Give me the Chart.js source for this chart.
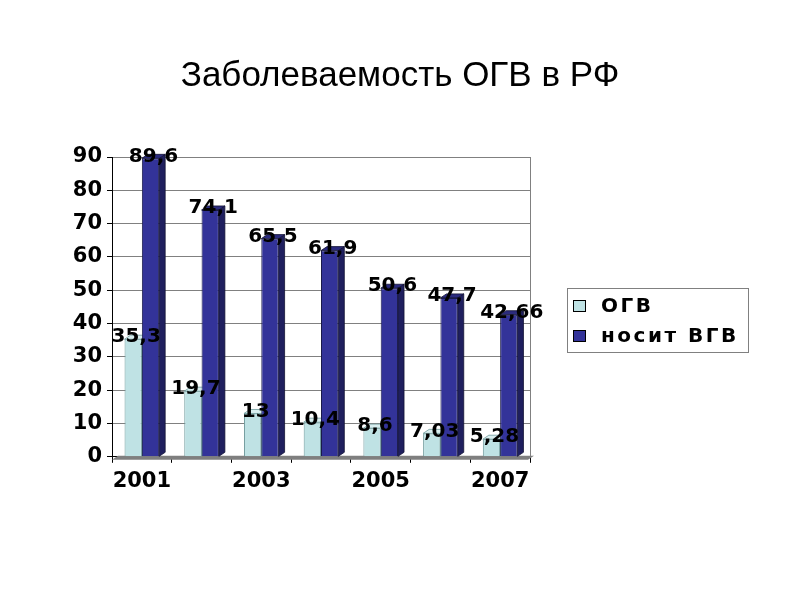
<!DOCTYPE html>
<html lang="ru">
<head>
    <meta charset="utf-8">
    <title>Заболеваемость ОГВ в РФ</title>
    <script src="https://cdn.jsdelivr.net/npm/chart.js"></script>
    <style>
        html, body { margin: 0; padding: 0; background: #fff; }
        #wrap { position: relative; width: 800px; height: 600px; }
    </style>
</head>
<body>
    <div id="wrap">
        <canvas id="myBarChart"></canvas>
    </div>

    <script>
        // данные графика
        const years = ['2001', '2002', '2003', '2004', '2005', '2006', '2007'];
        const ogvValues = [35.3, 19.7, 13, 10.4, 8.6, 7.03, 5.28];
        const carrierValues = [89.6, 74.1, 65.5, 61.9, 50.6, 47.7, 42.66];
        const seriesNames = ['ОГВ', 'носит ВГВ'];
        const chartTitle = 'Заболеваемость ОГВ в РФ';
        const yMax = 90;
        const yStep = 10;

        const boldFont = 'bold 20px "DejaVu Sans"';
        const dx = 6, dy = 4; // глубина "3D"

        // боковые и верхние грани столбиков, пол, подписи, легенда, заголовок
        const bar3d = {
            id: 'bar3d',
            beforeDatasetsDraw(chart) {
                const ctx = chart.ctx;
                const area = chart.chartArea;
                ctx.save();
                // пол
                ctx.fillStyle = '#7f7f7f';
                ctx.strokeStyle = '#333';
                ctx.lineWidth = 1;
                ctx.beginPath();
                ctx.moveTo(area.left, area.bottom + 3);
                ctx.lineTo(area.left + dx, area.bottom - 1);
                ctx.lineTo(area.right + 4, area.bottom - 1);
                ctx.lineTo(area.right - 2, area.bottom + 3);
                ctx.closePath();
                ctx.fill();
                // правая граница области
                ctx.strokeStyle = '#808080';
                ctx.beginPath();
                ctx.moveTo(area.right + 0.5, area.top);
                ctx.lineTo(area.right + 0.5, area.bottom);
                ctx.stroke();

                chart.data.datasets.forEach((ds, i) => {
                    const meta = chart.getDatasetMeta(i);
                    meta.data.forEach(bar => {
                        const half = bar.width / 2;
                        const l = bar.x - half, r = bar.x + half;
                        ctx.strokeStyle = ds.edgeColor;
                        ctx.lineWidth = 0.8;
                        // бок
                        ctx.fillStyle = ds.sideColor;
                        ctx.beginPath();
                        ctx.moveTo(r, bar.y);
                        ctx.lineTo(r + dx, bar.y - dy);
                        ctx.lineTo(r + dx, bar.base - dy);
                        ctx.lineTo(r, bar.base);
                        ctx.closePath();
                        ctx.fill();
                        ctx.stroke();
                        // верх
                        ctx.fillStyle = ds.topColor;
                        ctx.beginPath();
                        ctx.moveTo(l, bar.y);
                        ctx.lineTo(l + dx, bar.y - dy);
                        ctx.lineTo(r + dx, bar.y - dy);
                        ctx.lineTo(r, bar.y);
                        ctx.closePath();
                        ctx.fill();
                        ctx.stroke();
                    });
                });
                ctx.restore();
            },
            afterDatasetsDraw(chart) {
                const ctx = chart.ctx;
                ctx.save();
                ctx.font = boldFont;
                ctx.fillStyle = '#000';
                ctx.textAlign = 'center';
                ctx.textBaseline = 'middle';
                chart.data.datasets.forEach((ds, i) => {
                    chart.getDatasetMeta(i).data.forEach((bar, j) => {
                        const txt = String(ds.data[j]).replace('.', ',');
                        ctx.fillText(txt, bar.x + dx / 2, bar.y - dy / 2);
                    });
                });
                ctx.restore();
            },
            afterDraw(chart) {
                const ctx = chart.ctx;
                ctx.save();
                // заголовок
                ctx.font = '35px "Liberation Sans"';
                ctx.fillStyle = '#000';
                ctx.textAlign = 'center';
                ctx.textBaseline = 'middle';
                ctx.fillText(chartTitle, 400, 76);
                // легенда в рамке
                ctx.strokeStyle = '#808080';
                ctx.lineWidth = 1;
                ctx.strokeRect(567.5, 288.5, 181, 64);
                ctx.font = boldFont;
                ctx.textAlign = 'left';
                ctx.letterSpacing = '2.5px';
                const rows = [306, 336];
                chart.data.datasets.forEach((ds, i) => {
                    ctx.fillStyle = ds.backgroundColor;
                    ctx.fillRect(573, rows[i] - 6, 13, 12);
                    ctx.strokeStyle = '#000';
                    ctx.strokeRect(573.5, rows[i] - 5.5, 12, 11);
                    ctx.fillStyle = '#000';
                    ctx.fillText(ds.label, 601, rows[i] + 1);
                });
                ctx.restore();
            }
        };

        const ctx = document.getElementById('myBarChart').getContext('2d');
        let myBarChart = new Chart(ctx, {
            type: 'bar',
            data: {
                labels: years,
                datasets: [{
                    label: seriesNames[0],
                    data: ogvValues,
                    backgroundColor: '#bfe2e4',
                    borderColor: '#6f9a9c',
                    borderWidth: 1,
                    sideColor: '#8db5b8',
                    topColor: '#d9eeef',
                    edgeColor: '#6f9a9c'
                }, {
                    label: seriesNames[1],
                    data: carrierValues,
                    backgroundColor: '#333399',
                    borderColor: '#1a1a4a',
                    borderWidth: 1,
                    sideColor: '#1f1f5e',
                    topColor: '#2b2b7e',
                    edgeColor: '#111133'
                }]
            },
            options: {
                responsive: true,
                maintainAspectRatio: false,
                animation: false,
                layout: {
                    padding: { left: 68, right: 270, top: 157, bottom: 100 }
                },
                datasets: {
                    bar: { categoryPercentage: 0.58, barPercentage: 1.0 }
                },
                scales: {
                    x: {
                        grid: { display: true, drawOnChartArea: false, tickLength: 6, color: '#000' },
                        border: { color: '#000' },
                        ticks: {
                            autoSkip: false,
                            maxRotation: 0,
                            padding: 6,
                            color: '#000',
                            font: { family: 'DejaVu Sans', size: 21, weight: 'bold' },
                            callback: (v, i) => (i % 2 === 0 ? years[i] : '')
                        }
                    },
                    y: {
                        min: 0,
                        max: yMax,
                        afterFit: s => { s.width = 44; },
                        grid: { color: '#808080', tickColor: '#000', tickLength: 5 },
                        border: { color: '#000' },
                        ticks: {
                            stepSize: yStep,
                            padding: 5,
                            color: '#000',
                            font: { family: 'DejaVu Sans', size: 21, weight: 'bold' }
                        }
                    }
                },
                plugins: {
                    legend: { display: false },
                    tooltip: { enabled: false },
                    title: { display: false }
                }
            },
            plugins: [bar3d]
        });
    </script>
</body>
</html>
